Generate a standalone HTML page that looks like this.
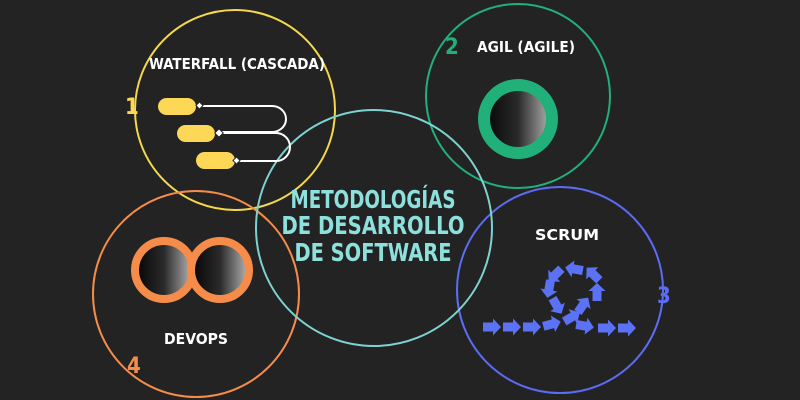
<!DOCTYPE html>
<html><head><meta charset="utf-8"><style>
html,body{margin:0;padding:0;background:#232323;}
svg{display:block}
text{font-family:"Liberation Sans Narrow","DejaVu Sans Condensed","Liberation Sans",sans-serif;font-weight:bold;}
</style></head><body>
<svg width="800" height="400" viewBox="0 0 800 400" xmlns="http://www.w3.org/2000/svg">
<defs>
<linearGradient id="g" x1="0" y1="0" x2="1" y2="0">
<stop offset="0" stop-color="#050505"/><stop offset="0.5" stop-color="#2a2a2a"/><stop offset="1" stop-color="#b8b8b8"/>
</linearGradient>
<polygon id="ar" points="-9,-4.5 1,-4.5 1,-8.5 9,0 1,8.5 1,4.5 -9,4.5" fill="#5b72f5"/>
</defs>
<rect width="800" height="400" fill="#232323"/>
<g fill="none" stroke-width="2">
<circle cx="235" cy="110" r="100" stroke="#f5d94a"/>
<circle cx="518" cy="96" r="92" stroke="#22b07a"/>
<circle cx="196" cy="294" r="103" stroke="#f58c4a"/>
<circle cx="560" cy="290" r="103" stroke="#5b6cf5"/>
<circle cx="374" cy="228" r="118" stroke="#7dd3d0"/>
</g>
<g stroke="#fff" stroke-width="2" fill="none">
<path d="M200 106 H272 A14 13 0 0 1 272 132 H218"/>
<path d="M218 133 H276 A14 14 0 0 1 276 161 H237"/>
</g>
<rect x="158" y="98" width="38" height="17" rx="8.5" fill="#fdd756"/>
<rect x="177" y="125" width="38" height="17" rx="8.5" fill="#fdd756"/>
<rect x="196" y="152" width="39" height="17" rx="8.5" fill="#fdd756"/>
<g fill="#fff" stroke="#232323" stroke-width="1">
<rect x="197" y="103" width="5" height="5" transform="rotate(45 199.5 105.5)"/>
<rect x="216" y="130" width="6" height="6" transform="rotate(45 219 133)"/>
<rect x="234" y="158" width="5" height="5" transform="rotate(45 236.5 160.5)"/>
</g>
<circle cx="518" cy="119" r="34" fill="url(#g)" stroke="#22b07a" stroke-width="12"/>
<circle cx="164" cy="270" r="29" fill="url(#g)" stroke="#f58c4a" stroke-width="8"/>
<circle cx="220" cy="270" r="29" fill="url(#g)" stroke="#f58c4a" stroke-width="8"/>
<use href="#ar" transform="translate(492,327)"/>
<use href="#ar" transform="translate(512,327)"/>
<use href="#ar" transform="translate(532,327)"/>
<use href="#ar" transform="translate(552,324) rotate(-15)"/>
<use href="#ar" transform="translate(572,317) rotate(-30)"/>
<use href="#ar" transform="translate(583,305) rotate(-55)"/>
<use href="#ar" transform="translate(597,292) rotate(-90)"/>
<use href="#ar" transform="translate(593,274) rotate(-135)"/>
<use href="#ar" transform="translate(574,269) rotate(190)"/>
<use href="#ar" transform="translate(555,275) rotate(135)"/>
<use href="#ar" transform="translate(549,289) rotate(100)"/>
<use href="#ar" transform="translate(557,306) rotate(60)"/>
<use href="#ar" transform="translate(585,326) rotate(10)"/>
<use href="#ar" transform="translate(607,328)"/>
<use href="#ar" transform="translate(627,328)"/>
<g fill="#fff" font-size="15" text-anchor="middle">
<text x="237" y="69" textLength="176" lengthAdjust="spacingAndGlyphs">WATERFALL (CASCADA)</text>
<text x="526" y="52" textLength="98" lengthAdjust="spacingAndGlyphs">AGIL (AGILE)</text>
<text x="567" y="240" textLength="64" lengthAdjust="spacingAndGlyphs">SCRUM</text>
<text x="196" y="344" textLength="64" lengthAdjust="spacingAndGlyphs">DEVOPS</text>
</g>
<g font-size="22">
<text x="125" y="114" fill="#fdd756">1</text>
<text x="445" y="54" fill="#22b07a">2</text>
<text x="657" y="303" fill="#5b6cf5">3</text>
<text x="127" y="373" fill="#f58c4a">4</text>
</g>
<g fill="#8ee0dc" font-size="25" text-anchor="middle">
<text x="373" y="208" textLength="165" lengthAdjust="spacingAndGlyphs">METODOLOGÍAS</text>
<text x="373" y="234" textLength="183" lengthAdjust="spacingAndGlyphs">DE DESARROLLO</text>
<text x="373" y="261" textLength="157" lengthAdjust="spacingAndGlyphs">DE SOFTWARE</text>
</g>
</svg>
</body></html>
